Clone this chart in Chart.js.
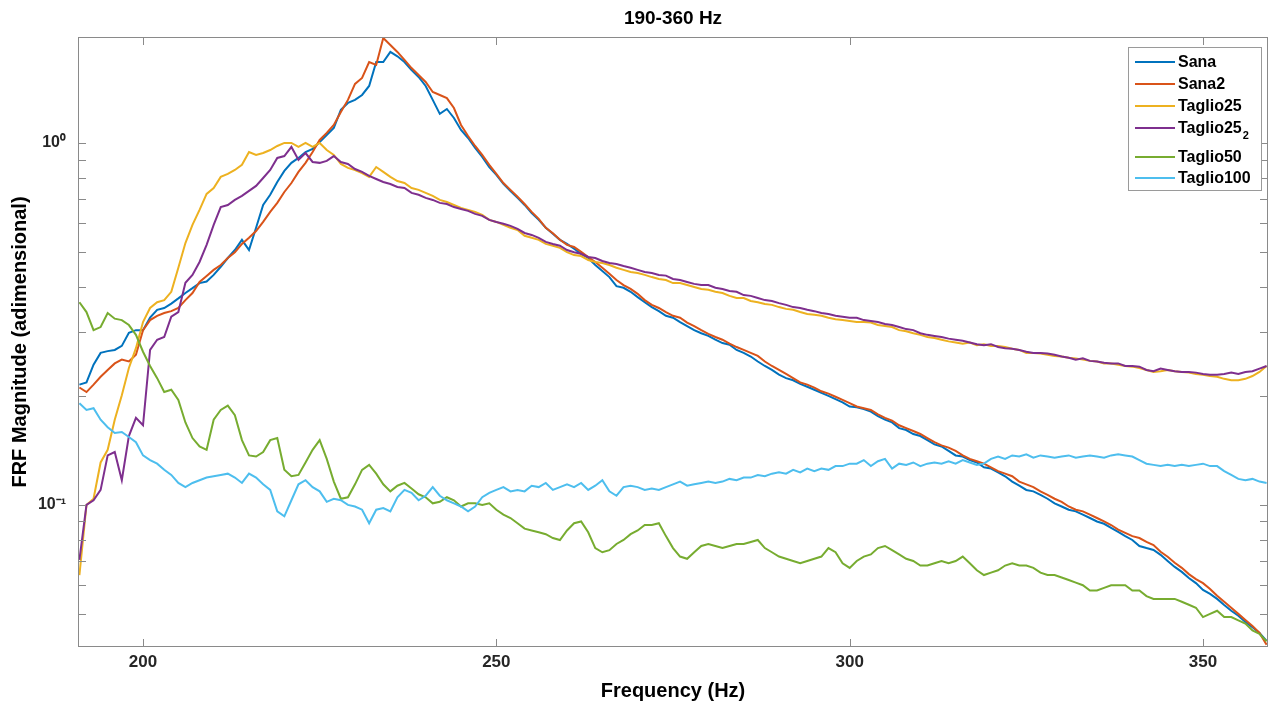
<!DOCTYPE html>
<html lang="it">
<head>
<meta charset="utf-8">
<title>FRF 190-360 Hz</title>
<script src="https://cdn.jsdelivr.net/npm/chart.js@4.4.1/dist/chart.umd.min.js"></script>
<style>
  html, body { margin: 0; padding: 0; background: #ffffff; }
  canvas { display: block; }
</style>
</head>
<body>
<canvas id="frfChart" width="1274" height="709"></canvas>
<script>
// frequency grid (Hz), 1 Hz step from 191 to 359
const freq = Array.from({ length: 169 }, (_, i) => 191 + i);

// FRF magnitudes, one row per 10 Hz
const sana = [
  0.215, 0.218, 0.244, 0.263, 0.266, 0.268, 0.275, 0.299, 0.304, 0.304,
  0.329, 0.346, 0.350, 0.360, 0.372, 0.385, 0.397, 0.410, 0.414, 0.432,
  0.455, 0.481, 0.506, 0.540, 0.506, 0.583, 0.674, 0.719, 0.780, 0.837,
  0.881, 0.909, 0.944, 0.963, 1.006, 1.052, 1.100, 1.234, 1.290, 1.315,
  1.357, 1.437, 1.673, 1.673, 1.784, 1.735, 1.673, 1.591, 1.522, 1.437,
  1.315, 1.203, 1.241, 1.172, 1.086, 1.032, 0.969, 0.915, 0.858, 0.816,
  0.771, 0.737, 0.705, 0.674, 0.640, 0.613, 0.583, 0.561, 0.540, 0.526,
  0.510, 0.494, 0.481, 0.460, 0.443, 0.426, 0.402, 0.398, 0.388, 0.375,
  0.363, 0.352, 0.343, 0.333, 0.329, 0.320, 0.312, 0.304, 0.298, 0.293,
  0.286, 0.280, 0.277, 0.268, 0.263, 0.257, 0.249, 0.242, 0.236, 0.229,
  0.224, 0.221, 0.216, 0.212, 0.208, 0.204, 0.200, 0.196, 0.192, 0.187,
  0.186, 0.184, 0.181, 0.176, 0.172, 0.169, 0.163, 0.161, 0.157, 0.155,
  0.151, 0.147, 0.145, 0.141, 0.137, 0.136, 0.133, 0.131, 0.127, 0.126,
  0.123, 0.120, 0.116, 0.113, 0.110, 0.109, 0.1066, 0.104, 0.101, 0.099,
  0.097, 0.096, 0.094, 0.092, 0.090, 0.0887, 0.0864, 0.0842, 0.082, 0.080,
  0.077, 0.076, 0.0751, 0.0728, 0.070, 0.0674, 0.0653, 0.0628, 0.0608, 0.0582,
  0.0568, 0.055, 0.0529, 0.051, 0.0494, 0.0475, 0.0459, 0.0443, 0.0421
];

const sana2 = [
  0.211, 0.205, 0.215, 0.226, 0.236, 0.246, 0.252, 0.249, 0.260, 0.304,
  0.324, 0.333, 0.339, 0.343, 0.350, 0.368, 0.385, 0.413, 0.429, 0.446,
  0.460, 0.481, 0.499, 0.526, 0.547, 0.571, 0.605, 0.645, 0.683, 0.732,
  0.775, 0.832, 0.881, 0.944, 1.019, 1.066, 1.121, 1.218, 1.315, 1.456,
  1.512, 1.673, 1.643, 1.950, 1.865, 1.784, 1.696, 1.610, 1.541, 1.474,
  1.383, 1.357, 1.330, 1.249, 1.121, 1.045, 0.981, 0.927, 0.870, 0.821,
  0.775, 0.742, 0.710, 0.678, 0.645, 0.617, 0.583, 0.563, 0.540, 0.523,
  0.516, 0.500, 0.484, 0.469, 0.452, 0.435, 0.418, 0.405, 0.395, 0.383,
  0.368, 0.357, 0.350, 0.341, 0.333, 0.329, 0.319, 0.312, 0.304, 0.297,
  0.291, 0.286, 0.279, 0.273, 0.268, 0.263, 0.258, 0.249, 0.242, 0.236,
  0.230, 0.224, 0.218, 0.215, 0.211, 0.206, 0.203, 0.199, 0.195, 0.191,
  0.187, 0.185, 0.183, 0.178, 0.174, 0.171, 0.166, 0.163, 0.160, 0.157,
  0.153, 0.149, 0.146, 0.144, 0.141, 0.137, 0.134, 0.132, 0.130, 0.127,
  0.124, 0.122, 0.120, 0.116, 0.114, 0.112, 0.109, 0.1066, 0.104, 0.102,
  0.099, 0.097, 0.096, 0.094, 0.092, 0.090, 0.088, 0.0855, 0.0837, 0.082,
  0.081, 0.079, 0.0775, 0.0742, 0.0719, 0.0692, 0.067, 0.0644, 0.0624, 0.0608,
  0.0586, 0.0561, 0.054, 0.052, 0.050, 0.0481, 0.0463, 0.0443, 0.0411
];

const taglio25 = [
  0.064, 0.100, 0.104, 0.131, 0.142, 0.172, 0.201, 0.239, 0.271, 0.320,
  0.350, 0.363, 0.368, 0.388, 0.452, 0.529, 0.594, 0.653, 0.723, 0.751,
  0.806, 0.821, 0.842, 0.870, 0.944, 0.927, 0.938, 0.956, 0.981, 1.000,
  1.000, 0.975, 1.000, 0.975, 1.000, 0.956, 0.927, 0.875, 0.853, 0.842,
  0.826, 0.806, 0.858, 0.832, 0.806, 0.785, 0.775, 0.751, 0.742, 0.728,
  0.714, 0.696, 0.687, 0.674, 0.661, 0.653, 0.645, 0.633, 0.613, 0.605,
  0.594, 0.583, 0.575, 0.554, 0.547, 0.540, 0.526, 0.520, 0.513, 0.499,
  0.490, 0.487, 0.475, 0.469, 0.466, 0.460, 0.452, 0.446, 0.440, 0.437,
  0.432, 0.426, 0.421, 0.418, 0.410, 0.410, 0.405, 0.400, 0.395, 0.393,
  0.388, 0.385, 0.378, 0.373, 0.373, 0.366, 0.363, 0.359, 0.357, 0.352,
  0.348, 0.346, 0.341, 0.337, 0.335, 0.333, 0.329, 0.326, 0.324, 0.322,
  0.320, 0.320, 0.319, 0.314, 0.312, 0.310, 0.304, 0.302, 0.298, 0.295,
  0.291, 0.289, 0.286, 0.283, 0.281, 0.279, 0.281, 0.276, 0.278, 0.275,
  0.275, 0.273, 0.270, 0.268, 0.263, 0.263, 0.262, 0.260, 0.258, 0.257,
  0.255, 0.254, 0.252, 0.250, 0.249, 0.246, 0.246, 0.244, 0.242, 0.241,
  0.239, 0.236, 0.233, 0.234, 0.236, 0.234, 0.233, 0.232, 0.230, 0.229,
  0.227, 0.226, 0.223, 0.221, 0.221, 0.223, 0.227, 0.233, 0.242
];

const taglio25b = [
  0.0705, 0.100, 0.103, 0.110, 0.137, 0.140, 0.117, 0.155, 0.174, 0.166,
  0.268, 0.286, 0.291, 0.331, 0.341, 0.411, 0.432, 0.469, 0.523, 0.594,
  0.665, 0.674, 0.696, 0.714, 0.737, 0.761, 0.800, 0.842, 0.909, 0.920,
  0.975, 0.898, 0.938, 0.886, 0.881, 0.892, 0.920, 0.886, 0.875, 0.847,
  0.832, 0.811, 0.795, 0.780, 0.770, 0.756, 0.751, 0.728, 0.719, 0.705,
  0.696, 0.683, 0.678, 0.665, 0.657, 0.649, 0.637, 0.629, 0.613, 0.605,
  0.598, 0.590, 0.579, 0.564, 0.557, 0.547, 0.533, 0.526, 0.520, 0.506,
  0.499, 0.494, 0.484, 0.481, 0.472, 0.466, 0.463, 0.457, 0.452, 0.446,
  0.440, 0.437, 0.432, 0.430, 0.421, 0.418, 0.413, 0.408, 0.405, 0.405,
  0.398, 0.395, 0.390, 0.388, 0.380, 0.378, 0.373, 0.368, 0.366, 0.361,
  0.357, 0.352, 0.350, 0.346, 0.343, 0.339, 0.337, 0.333, 0.331, 0.329,
  0.329, 0.324, 0.322, 0.320, 0.316, 0.314, 0.310, 0.306, 0.304, 0.298,
  0.295, 0.293, 0.291, 0.288, 0.286, 0.284, 0.281, 0.278, 0.276, 0.278,
  0.273, 0.271, 0.270, 0.268, 0.265, 0.263, 0.263, 0.262, 0.260, 0.257,
  0.255, 0.252, 0.254, 0.250, 0.249, 0.247, 0.246, 0.246, 0.242, 0.242,
  0.241, 0.236, 0.234, 0.238, 0.236, 0.234, 0.233, 0.233, 0.232, 0.230,
  0.229, 0.229, 0.230, 0.232, 0.230, 0.233, 0.234, 0.238, 0.242
];

const taglio50 = [
  0.363, 0.341, 0.304, 0.310, 0.339, 0.327, 0.324, 0.314, 0.295, 0.265,
  0.242, 0.224, 0.205, 0.208, 0.195, 0.169, 0.153, 0.145, 0.142, 0.172,
  0.183, 0.188, 0.177, 0.151, 0.137, 0.136, 0.140, 0.151, 0.153, 0.125,
  0.120, 0.121, 0.131, 0.142, 0.151, 0.134, 0.116, 0.104, 0.105, 0.114,
  0.125, 0.129, 0.122, 0.114, 0.109, 0.113, 0.115, 0.111, 0.107, 0.105,
  0.101, 0.102, 0.105, 0.103, 0.099, 0.101, 0.101, 0.100, 0.101, 0.097,
  0.094, 0.092, 0.089, 0.086, 0.085, 0.084, 0.083, 0.081, 0.080, 0.085,
  0.089, 0.090, 0.084, 0.076, 0.074, 0.075, 0.078, 0.080, 0.083, 0.085,
  0.088, 0.088, 0.089, 0.082, 0.076, 0.072, 0.071, 0.074, 0.077, 0.078,
  0.077, 0.076, 0.077, 0.078, 0.078, 0.079, 0.080, 0.076, 0.074, 0.072,
  0.071, 0.070, 0.069, 0.070, 0.071, 0.072, 0.076, 0.074, 0.069, 0.067,
  0.070, 0.072, 0.073, 0.076, 0.077, 0.075, 0.073, 0.071, 0.070, 0.068,
  0.068, 0.069, 0.070, 0.069, 0.070, 0.072, 0.069, 0.066, 0.064, 0.065,
  0.066, 0.068, 0.069, 0.068, 0.068, 0.067, 0.065, 0.064, 0.064, 0.063,
  0.062, 0.061, 0.060, 0.058, 0.058, 0.059, 0.060, 0.060, 0.060, 0.058,
  0.058, 0.056, 0.055, 0.055, 0.055, 0.055, 0.054, 0.053, 0.052, 0.049,
  0.050, 0.051, 0.049, 0.049, 0.048, 0.047, 0.045, 0.044, 0.042
];

const taglio100 = [
  0.191, 0.183, 0.185, 0.172, 0.164, 0.158, 0.159, 0.154, 0.149, 0.137,
  0.133, 0.130, 0.125, 0.121, 0.115, 0.112, 0.115, 0.117, 0.119, 0.120,
  0.121, 0.122, 0.119, 0.115, 0.122, 0.119, 0.114, 0.110, 0.096, 0.093,
  0.103, 0.114, 0.117, 0.112, 0.109, 0.102, 0.104, 0.103, 0.100, 0.099,
  0.097, 0.089, 0.097, 0.098, 0.096, 0.105, 0.110, 0.108, 0.103, 0.106,
  0.112, 0.106, 0.103, 0.101, 0.099, 0.096, 0.099, 0.105, 0.108, 0.110,
  0.112, 0.109, 0.110, 0.109, 0.113, 0.112, 0.115, 0.110, 0.112, 0.114,
  0.112, 0.115, 0.110, 0.113, 0.117, 0.109, 0.106, 0.112, 0.113, 0.112,
  0.110, 0.111, 0.110, 0.112, 0.114, 0.116, 0.113, 0.114, 0.115, 0.116,
  0.115, 0.116, 0.118, 0.117, 0.119, 0.119, 0.121, 0.120, 0.122, 0.123,
  0.122, 0.125, 0.123, 0.126, 0.124, 0.126, 0.125, 0.128, 0.128, 0.130,
  0.130, 0.133, 0.128, 0.132, 0.134, 0.126, 0.130, 0.129, 0.131, 0.128,
  0.130, 0.131, 0.130, 0.132, 0.130, 0.133, 0.131, 0.129, 0.130, 0.134,
  0.136, 0.134, 0.137, 0.136, 0.138, 0.135, 0.137, 0.136, 0.135, 0.136,
  0.137, 0.135, 0.136, 0.137, 0.136, 0.135, 0.137, 0.138, 0.137, 0.136,
  0.133, 0.130, 0.129, 0.128, 0.129, 0.128, 0.129, 0.128, 0.129, 0.130,
  0.128, 0.128, 0.124, 0.121, 0.118, 0.117, 0.118, 0.116, 0.115
];

const seriesNames = ['Sana', 'Sana2', 'Taglio25', 'Taglio25_2', 'Taglio50', 'Taglio100'];
const seriesValues = [sana, sana2, taglio25, taglio25b, taglio50, taglio100];
const seriesColors = ['#0072BD', '#D95319', '#EDB120', '#7E2F8E', '#77AC30', '#4DBEEE'];

const xTicks = [200, 250, 300, 350];
const yTicks = [0.05, 0.06, 0.07, 0.08, 0.09, 0.1, 0.2, 0.3, 0.4, 0.5, 0.6, 0.7, 0.8, 0.9, 1];
const yTickLabels = { 0.1: '10\u207B\u00B9', 1: '10\u2070' };

const FONT = "'Liberation Sans', Arial, Helvetica, sans-serif";
const AXIS_GREY = '#8a8a8a';

// box around the axes plus inward tick marks on all four sides
const axesBox = {
  id: 'axesBox',
  afterDatasetsDraw(chart) {
    const { ctx, chartArea: a, scales: { x, y } } = chart;
    const len = 8;
    ctx.save();
    ctx.strokeStyle = AXIS_GREY;
    ctx.lineWidth = 1;
    ctx.strokeRect(a.left + 0.5, a.top + 0.5, a.width - 1, a.height - 1);
    ctx.beginPath();
    xTicks.forEach(v => {
      const px = Math.round(x.getPixelForValue(v)) + 0.5;
      ctx.moveTo(px, a.bottom); ctx.lineTo(px, a.bottom - len);
      ctx.moveTo(px, a.top); ctx.lineTo(px, a.top + len);
    });
    yTicks.forEach(v => {
      const py = Math.round(y.getPixelForValue(v)) + 0.5;
      ctx.moveTo(a.left, py); ctx.lineTo(a.left + len, py);
      ctx.moveTo(a.right, py); ctx.lineTo(a.right - len, py);
    });
    ctx.stroke();
    ctx.restore();
  }
};

// MATLAB-style legend box in the top right corner, "_x" drawn as subscript
const boxLegend = {
  id: 'boxLegend',
  afterDraw(chart) {
    const { ctx, chartArea: a } = chart;
    const right = a.right - 6, top = a.top + 10;
    const w = 134, h = 144;
    const left = right - w;
    const rows = [15, 37, 59, 81, 110, 131];
    ctx.save();
    ctx.fillStyle = '#ffffff';
    ctx.fillRect(left, top, w, h);
    ctx.strokeStyle = '#9a9a9a';
    ctx.lineWidth = 1;
    ctx.strokeRect(left + 0.5, top + 0.5, w - 1, h - 1);
    chart.data.datasets.forEach((ds, i) => {
      const cy = top + rows[i];
      ctx.strokeStyle = ds.borderColor;
      ctx.lineWidth = 2;
      ctx.beginPath();
      ctx.moveTo(left + 7, cy);
      ctx.lineTo(left + 47, cy);
      ctx.stroke();
      const [main, sub] = ds.label.split('_');
      ctx.fillStyle = '#000';
      ctx.textBaseline = 'middle';
      ctx.font = 'bold 16px ' + FONT;
      ctx.fillText(main, left + 50, cy + 1);
      if (sub) {
        const mw = ctx.measureText(main).width;
        ctx.font = 'bold 11px ' + FONT;
        ctx.fillText(sub, left + 51 + mw, cy + 8);
      }
    });
    ctx.restore();
  }
};

const datasets = seriesNames.map((name, i) => ({
  label: name,
  data: seriesValues[i].map((v, k) => ({ x: freq[k], y: v })),
  borderColor: seriesColors[i],
  backgroundColor: seriesColors[i],
  borderWidth: 2,
  pointRadius: 0,
  tension: 0,
  fill: false,
  order: seriesNames.length - i
}));

Chart.defaults.font.family = FONT;

new Chart(document.getElementById('frfChart').getContext('2d'), {
  type: 'line',
  data: { datasets },
  options: {
    responsive: false,
    animation: false,
    events: [],
    layout: { padding: { left: 0, right: 6, top: 0, bottom: 0 } },
    plugins: {
      legend: { display: false },
      tooltip: { enabled: false },
      title: {
        display: true,
        fullSize: false,
        text: '190-360 Hz',
        color: '#000',
        font: { size: 19, weight: 'bold', lineHeight: 1.2 },
        padding: { top: 7, bottom: 7.2 }
      }
    },
    scales: {
      x: {
        type: 'linear',
        min: 190.8,
        max: 359.2,
        grid: { display: false, drawTicks: false },
        border: { display: false },
        afterBuildTicks: s => { s.ticks = xTicks.map(v => ({ value: v })); },
        afterFit: s => { s.height = 62; },
        ticks: {
          color: '#262626',
          font: { size: 17, weight: 'bold' },
          padding: 5,
          maxRotation: 0,
          autoSkip: false
        },
        title: {
          display: true,
          text: 'Frequency (Hz)',
          color: '#000',
          font: { size: 20, weight: 'bold', lineHeight: 1.2 },
          padding: { top: 0, bottom: 6 }
        }
      },
      y: {
        type: 'logarithmic',
        min: 0.0405,
        max: 1.962,
        grid: { display: false, drawTicks: false },
        border: { display: false },
        afterBuildTicks: s => { s.ticks = yTicks.map(v => ({ value: v })); },
        afterFit: s => { s.width = 78; },
        ticks: {
          color: '#262626',
          font: { size: 16, weight: 'bold' },
          padding: 12,
          autoSkip: false,
          callback: v => yTickLabels[v] || ''
        },
        title: {
          display: true,
          text: 'FRF Magnitude (adimensional)',
          color: '#000',
          font: { size: 20, weight: 'bold', lineHeight: 1.2 },
          padding: { top: 8, bottom: 0 }
        }
      }
    }
  },
  plugins: [axesBox, boxLegend]
});
</script>
</body>
</html>
